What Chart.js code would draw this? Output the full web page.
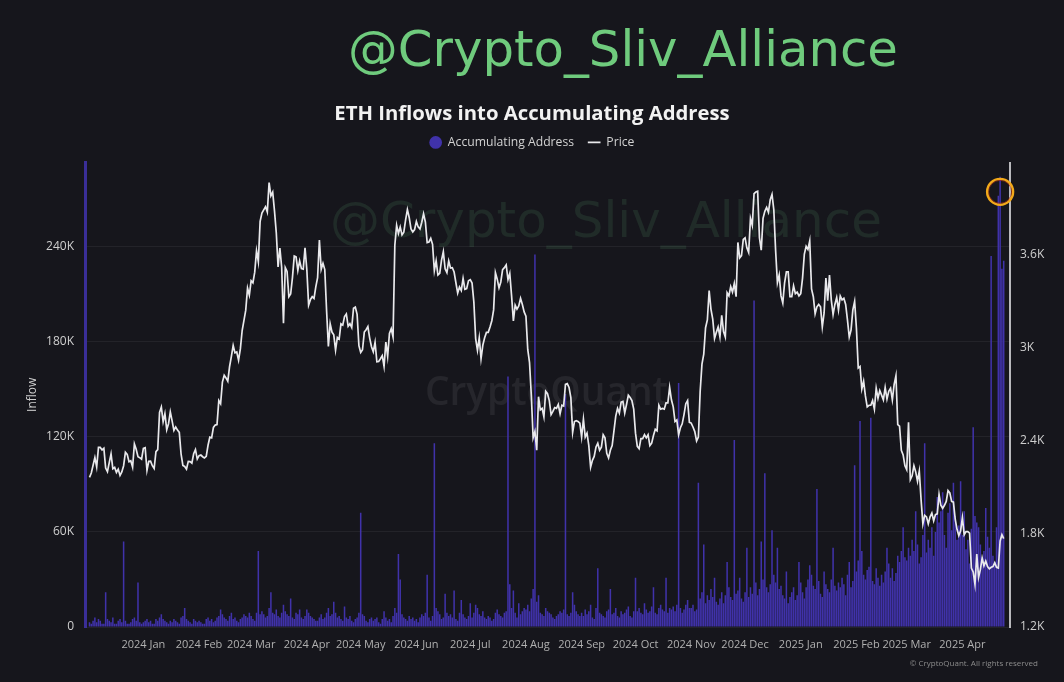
<!DOCTYPE html>
<html>
<head>
<meta charset="utf-8">
<title>ETH Inflows into Accumulating Address</title>
<script src="https://cdn.jsdelivr.net/npm/chart.js@4.4.1/dist/chart.umd.min.js"></script>
<style>
  html, body { margin: 0; padding: 0; background: #16161c; }
  #wrap { position: relative; width: 1064px; height: 682px; }
</style>
</head>
<body>
<div id="wrap"><canvas id="inflowChart"></canvas></div>
<script>
// first day with data, one value per day from here
const firstDay = '2023-12-02';
// empty days on the x axis before / after the data
const leadDays = 2;
const trailDays = 3;

const monthTicks = [
  '2024 Jan', '2024 Feb', '2024 Mar', '2024 Apr', '2024 May', '2024 Jun', '2024 Jul', '2024 Aug',
  '2024 Sep', '2024 Oct', '2024 Nov', '2024 Dec', '2025 Jan', '2025 Feb', '2025 Mar', '2025 Apr'
];
const inflowTicks = [0, 60, 120, 180, 240];
const priceTicks = [1200, 1800, 2400, 3000, 3600];

// inflow into accumulating addresses, thousand ETH per day
const inflowK = [
  // 2023 Dec (from the 2nd)
  3, 2, 4, 6, 3, 5, 4, 2, 2, 22, 5, 4, 3, 6, 2, 2, 4, 5, 3, 54, 4, 2, 2, 3, 5, 6, 4, 28, 3, 2,
  // 2024 Jan
  3, 4, 5, 3, 4, 2, 2, 5, 4, 6, 8, 5, 4, 3, 2, 4, 3, 5, 4, 3, 2, 6, 7, 12, 5, 4, 3, 2, 5, 4, 3,
  // Feb
  4, 3, 2, 2, 5, 6, 4, 5, 3, 4, 6, 7, 11, 8, 6, 5, 4, 7, 9, 5, 6, 4, 3, 5, 6, 8, 7, 6, 9,
  // Mar
  7, 5, 4, 9, 48, 8, 10, 8, 6, 7, 12, 22, 9, 8, 11, 7, 6, 9, 14, 10, 8, 7, 18, 6, 5, 9, 8, 11, 6, 5, 7,
  // Apr
  11, 9, 7, 6, 5, 4, 4, 6, 8, 5, 6, 9, 12, 7, 8, 16, 9, 6, 7, 5, 4, 13, 6, 5, 7, 4, 3, 5, 6, 9,
  // May
  72, 8, 7, 4, 3, 5, 6, 4, 5, 6, 3, 2, 5, 10, 6, 4, 5, 3, 7, 12, 9, 46, 30, 8, 6, 5, 4, 7, 5, 6, 4,
  // Jun
  5, 3, 6, 8, 7, 9, 33, 6, 4, 7, 116, 12, 10, 8, 5, 6, 21, 9, 7, 8, 6, 23, 5, 4, 9, 17, 8, 6, 5, 7,
  // Jul
  15, 6, 9, 14, 12, 8, 7, 10, 6, 5, 7, 6, 4, 5, 9, 11, 8, 7, 6, 9, 10, 158, 27, 12, 23, 9, 6, 15, 8, 10, 12,
  // Aug
  11, 14, 10, 18, 24, 235, 16, 20, 9, 8, 7, 12, 10, 9, 8, 6, 5, 7, 8, 10, 9, 11, 147, 8, 7, 9, 22, 14, 10, 8, 7,
  // Sep
  9, 7, 11, 8, 10, 14, 6, 5, 12, 37, 9, 8, 7, 6, 10, 11, 24, 8, 9, 12, 7, 6, 10, 8, 9, 11, 13, 7, 6, 10,
  // Oct
  31, 10, 12, 9, 8, 15, 11, 9, 10, 13, 25, 9, 8, 12, 14, 11, 10, 31, 9, 12, 11, 13, 10, 14, 154, 12, 9, 11, 14, 17, 12,
  // Nov
  12, 14, 10, 11, 91, 18, 22, 52, 15, 20, 17, 24, 19, 31, 16, 14, 18, 22, 15, 20, 41, 25, 19, 17, 118, 21, 23, 31, 18, 16,
  // Dec
  22, 50, 19, 25, 21, 206, 28, 20, 24, 54, 30, 97, 25, 22, 27, 61, 33, 28, 50, 24, 26, 20, 18, 35, 15, 19, 22, 25, 17, 20, 41,
  // 2025 Jan
  28, 22, 18, 25, 30, 39, 33, 26, 24, 87, 29, 21, 19, 35, 27, 24, 22, 30, 50, 26, 23, 28, 25, 31, 27, 20, 33, 41, 25, 29, 102,
  // Feb
  35, 42, 130, 48, 33, 30, 36, 38, 132, 29, 27, 37, 31, 26, 33, 28, 35, 50, 40, 31, 37, 29, 34, 45, 41, 48, 63, 44,
  // Mar
  42, 50, 45, 55, 48, 73, 52, 40, 44, 58, 116, 47, 55, 50, 63, 45, 60, 82, 66, 73, 85, 58, 50, 72, 78, 61, 91, 70, 55, 64, 92,
  // Apr (to the 24th)
  58, 73, 49, 55, 40, 62, 126, 70, 66, 63, 52, 44, 48, 75, 57, 50, 234, 45, 41, 63, 272, 284, 226, 231
];

// ETH price, USD, daily
const price = [
  // 2023 Dec (from the 2nd)
  2165, 2193, 2243, 2293, 2232, 2358, 2358, 2342, 2353, 2225, 2202, 2260, 2316, 2221, 2229,
  2197, 2218, 2177, 2200, 2240, 2327, 2313, 2266, 2272, 2231, 2380, 2346, 2298, 2292, 2282,
  // 2024 Jan
  2352, 2356, 2210, 2268, 2269, 2240, 2222, 2331, 2344, 2584, 2618, 2524, 2576, 2472, 2511, 2587,
  2529, 2468, 2490, 2470, 2455, 2314, 2242, 2235, 2218, 2268, 2267, 2257, 2317, 2344, 2283,
  // Feb
  2305, 2309, 2298, 2290, 2300, 2372, 2424, 2420, 2487, 2502, 2505, 2660, 2640, 2779, 2823,
  2806, 2785, 2880, 2945, 3015, 2968, 2973, 2920, 2993, 3112, 3177, 3243, 3385, 3340,
  // Mar
  3433, 3420, 3488, 3626, 3556, 3816, 3869, 3890, 3910, 3876, 4066, 3980, 4004, 3883, 3742, 3522,
  3644, 3519, 3159, 3518, 3493, 3330, 3347, 3453, 3592, 3587, 3500, 3561, 3511, 3508, 3645,
  // Apr
  3505, 3276, 3311, 3330, 3319, 3393, 3453, 3696, 3506, 3545, 3505, 3241, 3009, 3155, 3102,
  3084, 2985, 3067, 3057, 3155, 3147, 3202, 3219, 3139, 3156, 3131, 3256, 3263, 3216, 3014,
  // May
  2970, 2988, 3102, 3117, 3137, 3063, 3007, 2975, 3036, 2910, 2912, 2930, 2950, 2881, 3037, 2945,
  3093, 3123, 3071, 3662, 3790, 3738, 3780, 3729, 3746, 3825, 3892, 3841, 3767, 3747, 3763,
  // Jun
  3815, 3780, 3767, 3810, 3865, 3812, 3679, 3683, 3706, 3668, 3498, 3561, 3470, 3480, 3566,
  3620, 3510, 3485, 3560, 3515, 3517, 3489, 3420, 3353, 3392, 3370, 3448, 3378, 3382, 3433,
  // Jul
  3440, 3418, 3295, 3060, 2985, 3065, 2930, 3018, 3065, 3100, 3100, 3135, 3175, 3245, 3485, 3443,
  3387, 3425, 3505, 3517, 3535, 3440, 3480, 3337, 3174, 3275, 3250, 3270, 3320, 3280, 3232,
  // Aug
  3205, 2990, 2905, 2690, 2420, 2460, 2340, 2685, 2600, 2610, 2555, 2720, 2705, 2660, 2570, 2590,
  2615, 2610, 2635, 2575, 2630, 2625, 2765, 2770, 2745, 2680, 2455, 2525, 2530, 2525, 2515,
  // Sep
  2425, 2540, 2425, 2450, 2370, 2230, 2275, 2300, 2360, 2385, 2340, 2360, 2440, 2420, 2320,
  2290, 2340, 2370, 2465, 2560, 2610, 2580, 2650, 2655, 2580, 2635, 2695, 2680, 2660, 2605,
  // Oct
  2450, 2365, 2350, 2415, 2415, 2440, 2420, 2440, 2370, 2385, 2435, 2475, 2465, 2630, 2605, 2610,
  2605, 2645, 2645, 2745, 2665, 2620, 2525, 2535, 2440, 2485, 2510, 2570, 2640, 2660, 2520,
  // Nov
  2515, 2490, 2460, 2400, 2425, 2720, 2895, 2960, 3130, 3180, 3370, 3250, 3185, 3060, 3100,
  3135, 3070, 3210, 3105, 3070, 3355, 3335, 3395, 3360, 3415, 3330, 3680, 3580, 3595, 3700,
  // Dec
  3710, 3645, 3615, 3835, 3790, 3995, 4005, 4010, 3710, 3630, 3835, 3880, 3905, 3875, 3955, 3990,
  3890, 3630, 3420, 3470, 3335, 3290, 3420, 3490, 3490, 3330, 3330, 3400, 3350, 3360, 3335,
  // 2025 Jan
  3350, 3450, 3605, 3655, 3635, 3690, 3380, 3330, 3220, 3265, 3280, 3265, 3135, 3225, 3450, 3305,
  3470, 3310, 3215, 3280, 3325, 3245, 3335, 3310, 3320, 3280, 3180, 3070, 3115, 3245, 3300,
  // Feb
  3125, 2870, 2880, 2735, 2785, 2690, 2620, 2630, 2630, 2660, 2605, 2740, 2675, 2725,
  2695, 2665, 2745, 2670, 2720, 2740, 2665, 2765, 2820, 2505, 2495, 2340, 2310, 2240,
  // Mar
  2215, 2520, 2150, 2175, 2240, 2200, 2140, 2205, 2020, 1865, 1920, 1910, 1865, 1910, 1935, 1885,
  1925, 1930, 2055, 1985, 1965, 1985, 2010, 2080, 2065, 2010, 2005, 1895, 1830, 1790, 1820,
  // Apr (to the 24th)
  1905, 1795, 1815, 1815, 1805, 1580, 1555, 1475, 1670, 1520, 1570, 1645,
  1595, 1625, 1590, 1575, 1585, 1590, 1615, 1585, 1580, 1755, 1795, 1770
];

const barColor = '#4032aa';
const priceColor = '#e9e9ec';

// one category per day, padded at both ends
const dayMs = 86400000;
const t0 = Date.parse(firstDay + 'T00:00:00Z') - leadDays * dayMs;
const labels = [];
for (let i = 0; i < leadDays + price.length + trailDays; i++) {
  labels.push(new Date(t0 + i * dayMs).toISOString().slice(0, 10));
}
const tickText = {};
labels.filter(d => d.endsWith('-01') && d >= '2024-01-01')
  .forEach((d, i) => { tickText[d] = monthTicks[i]; });

const padded = arr => Array(leadDays).fill(null).concat(arr, Array(trailDays).fill(null));

function fitFont(ctx, text, family, weight, width) {
  ctx.font = weight + ' 100px ' + family;
  const size = 100 * width / ctx.measureText(text).width;
  ctx.font = weight + ' ' + size.toFixed(2) + 'px ' + family;
}

// legend sits a little closer to the title than chart.js puts it
const legendNudge = {
  id: 'legendNudge',
  afterLayout(chart) {
    chart.legend.top -= 4;
    chart.legend.bottom -= 4;
  }
};

// watermarks, credit line and the highlight ring
const decor = {
  id: 'decor',
  beforeDatasetsDraw(chart) {
    const ctx = chart.ctx;
    ctx.save();
    ctx.textAlign = 'left';
    ctx.textBaseline = 'alphabetic';
    fitFont(ctx, '@Crypto_Sliv_Alliance', "'DejaVu Sans'", 'normal', 552);
    ctx.fillStyle = 'rgba(110, 200, 130, 0.12)';
    ctx.fillText('@Crypto_Sliv_Alliance', 330, 237);
    fitFont(ctx, 'CryptoQuant', "'Open Sans'", '600', 243);
    ctx.fillStyle = 'rgba(255, 255, 255, 0.07)';
    ctx.fillText('CryptoQuant', 425, 405);
    ctx.restore();
  },
  afterDatasetsDraw(chart) {
    const ctx = chart.ctx;
    const top = Math.max(...inflowK);
    const bar = chart.getDatasetMeta(0).data[inflowK.indexOf(top) + leadDays];
    ctx.save();
    ctx.beginPath();
    ctx.arc(bar.x, bar.y + 15, 11.5, 0, Math.PI * 2);
    ctx.strokeStyle = 'rgba(170, 40, 20, 0.7)';
    ctx.lineWidth = 1;
    ctx.stroke();
    ctx.beginPath();
    ctx.arc(bar.x, bar.y + 15, 13, 0, Math.PI * 2);
    ctx.strokeStyle = '#f3a91a';
    ctx.lineWidth = 2.4;
    ctx.stroke();
    ctx.restore();
  },
  afterDraw(chart) {
    const ctx = chart.ctx;
    ctx.save();
    ctx.textAlign = 'left';
    ctx.textBaseline = 'alphabetic';
    fitFont(ctx, '@Crypto_Sliv_Alliance', "'DejaVu Sans'", 'normal', 550);
    ctx.fillStyle = '#6fcb7d';
    ctx.fillText('@Crypto_Sliv_Alliance', 348, 66);
    ctx.textAlign = 'right';
    ctx.font = "8px 'Open Sans'";
    ctx.fillStyle = '#8c8c8c';
    ctx.fillText('\u00a9 CryptoQuant. All rights reserved', 1038, 666);
    ctx.restore();
  }
};

Chart.defaults.font.family = "'Open Sans', 'Noto Sans', sans-serif";
Chart.defaults.color = '#c8c8c8';

const ctx = document.getElementById('inflowChart').getContext('2d');
const inflowChart = new Chart(ctx, {
  data: {
    labels: labels,
    datasets: [{
      type: 'bar',
      label: 'Accumulating Address',
      data: padded(inflowK),
      yAxisID: 'y',
      backgroundColor: barColor,
      borderWidth: 0,
      barPercentage: 0.85,
      categoryPercentage: 1,
      pointStyle: 'circle',
      order: 2
    }, {
      type: 'line',
      label: 'Price',
      data: padded(price),
      yAxisID: 'y1',
      borderColor: priceColor,
      backgroundColor: priceColor,
      borderWidth: 1.7,
      pointRadius: 0,
      pointStyle: 'line',
      tension: 0,
      order: 1
    }]
  },
  options: {
    responsive: true,
    maintainAspectRatio: false,
    animation: false,
    layout: {
      padding: { top: 102, left: 0, right: 0, bottom: 0 }
    },
    plugins: {
      title: {
        display: true,
        text: 'ETH Inflows into Accumulating Address',
        color: '#f2f2f2',
        font: { size: 20.3, weight: 'bold' },
        padding: { top: 0, bottom: 0 }
      },
      legend: {
        display: true,
        position: 'top',
        labels: {
          usePointStyle: true,
          boxHeight: 9,
          padding: 14,
          color: '#d2d2d2',
          font: { size: 12.2 },
          sort: (a, b) => a.datasetIndex - b.datasetIndex
        }
      },
      tooltip: { enabled: false }
    },
    scales: {
      x: {
        type: 'category',
        offset: true,
        grid: { display: false, drawTicks: false },
        border: { display: false },
        ticks: {
          autoSkip: false,
          maxRotation: 0,
          minRotation: 0,
          padding: 11,
          color: '#b0b0b0',
          font: { size: 11 },
          callback: function(value, index) {
            return tickText[labels[index]] || '';
          }
        },
        afterFit: scale => { scale.height = 55; }
      },
      y: {
        position: 'left',
        min: 0,
        max: 293,
        grid: { color: 'rgba(255, 255, 255, 0.06)', drawTicks: false },
        border: { color: '#3a2e98', width: 3 },
        ticks: {
          padding: 11,
          color: '#cfcfcf',
          font: { size: 12 },
          callback: v => v === 0 ? '0' : v + 'K'
        },
        title: {
          display: true,
          text: 'Inflow',
          color: '#cfcfcf',
          font: { size: 12 },
          padding: { top: 25, bottom: 0 }
        },
        afterBuildTicks: scale => { scale.ticks = inflowTicks.map(v => ({ value: v })); },
        afterFit: scale => { scale.width = 85; }
      },
      y1: {
        position: 'right',
        min: 1200,
        max: 4195,
        grid: { display: false, drawTicks: false },
        border: { color: '#b9b9bd', width: 2 },
        ticks: {
          padding: 10,
          color: '#cfcfcf',
          font: { size: 12 },
          callback: v => (v / 1000) + 'K'
        },
        afterBuildTicks: scale => { scale.ticks = priceTicks.map(v => ({ value: v })); },
        afterFit: scale => { scale.width = 54; }
      }
    }
  },
  plugins: [legendNudge, decor]
});
</script>
</body>
</html>
